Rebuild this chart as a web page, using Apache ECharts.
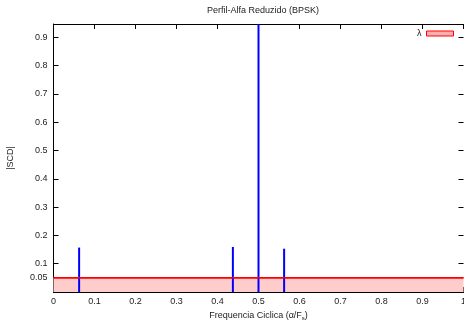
<!DOCTYPE html>
<html>
<head>
<meta charset="utf-8">
<script src="https://cdn.jsdelivr.net/npm/echarts@6/dist/echarts.min.js"></script>
<style>html,body{margin:0;padding:0;background:#fff}#c{width:464px;height:326px}</style>
</head>
<body>
<div id="c"></div>
<script>
// Data
const impulseX = [0.0625, 0.4375, 0.5, 0.5625];
const impulseY = [0.157, 0.159, 1.0, 0.153];
const lambdaX = [0, 1];
const lambdaY = [0.05, 0.05];
const xTicks = [0, 0.1, 0.2, 0.3, 0.4, 0.5, 0.6, 0.7, 0.8, 0.9, 1];
const yTickLabels = [0.05, 0.1, 0.2, 0.3, 0.4, 0.5, 0.6, 0.7, 0.8, 0.9];

const font = 'Liberation Sans, Arial, Helvetica, sans-serif';
const YMAX = 0.947;

const chart = echarts.init(document.getElementById('c'), null, {renderer: 'canvas'});

function yFmt(v) {
  for (const t of yTickLabels) {
    if (Math.abs(v - t) < 1e-6) return t === 0.05 ? '0.05' : t.toFixed(1);
  }
  return '';
}

const option = {
  animation: false,
  textStyle: {fontFamily: font},
  title: {
    text: 'Perfil-Alfa Reduzido (BPSK)',
    left: 258, top: 1, textAlign: 'center',
    textStyle: {fontSize: 9, fontWeight: 'normal', color: '#222', fontFamily: font}
  },
  legend: {
    right: 10, top: 29, padding: 0,
    align: 'right',
    itemWidth: 27, itemHeight: 5, itemGap: 0,
    textStyle: {fontSize: 9, color: '#222', fontFamily: font},
    data: [{name: 'λ', icon: 'rect', itemStyle: {color: '#ffb0b0', borderColor: '#ff0000', borderWidth: 1}}]
  },
  grid: {left: 53.5, top: 24, right: 0.5, bottom: 34, containLabel: false, outerBoundsMode: 'none'},
  xAxis: [
    {
      type: 'value', min: 0, max: 1, interval: 0.1, position: 'bottom',
      name: 'Frequencia Ciclica (α/F{s|s})', nameLocation: 'middle', nameGap: 15,
      nameTextStyle: {fontSize: 9, color: '#222', fontFamily: font,
        rich: {s: {fontSize: 6, color: '#222', fontFamily: font, padding: [6, 0, 0, 0]}}},
      axisLine: {show: true, onZero: false, lineStyle: {color: '#000', width: 1}},
      axisTick: {show: true, inside: true, length: 5, lineStyle: {color: '#000'}},
      axisLabel: {fontSize: 9, color: '#222', margin: 5, fontFamily: font,
        formatter: v => { for (const t of xTicks) if (Math.abs(v - t) < 1e-6) return String(t); return ''; }},
      splitLine: {show: false}
    },
    {
      type: 'value', min: 0, max: 1, interval: 0.1, position: 'top',
      axisLine: {show: true, onZero: false, lineStyle: {color: '#000', width: 1}},
      axisTick: {show: true, inside: true, length: 5, lineStyle: {color: '#000'}},
      axisLabel: {show: false}, splitLine: {show: false}
    }
  ],
  yAxis: [
    {
      type: 'value', min: 0, max: YMAX, interval: 0.05, position: 'left',
      name: '|SCD|', nameLocation: 'middle', nameGap: 38, nameRotate: 90,
      nameTextStyle: {fontSize: 9, color: '#222', fontFamily: font},
      axisLine: {show: true, onZero: false, lineStyle: {color: '#000', width: 1}},
      axisTick: {show: false},
      axisLabel: {fontSize: 9, color: '#222', margin: 6, formatter: yFmt, showMaxLabel: false, fontFamily: font},
      splitLine: {show: false}
    },
    {
      type: 'value', min: 0, max: YMAX, interval: 0.1, position: 'left',
      axisLine: {show: false, onZero: false},
      axisTick: {show: true, inside: true, length: 5, lineStyle: {color: '#000'}},
      axisLabel: {show: false}, splitLine: {show: false}
    },
    {
      type: 'value', min: 0, max: YMAX, interval: 0.1, position: 'right',
      axisLine: {show: false, onZero: false},
      axisTick: {show: true, inside: true, length: 5, lineStyle: {color: '#000'}},
      axisLabel: {show: false}, splitLine: {show: false}
    }
  ],
  series: [
    {
      name: 'λ', type: 'line', xAxisIndex: 0, yAxisIndex: 0,
      data: lambdaX.map((x, i) => [x, lambdaY[i]]),
      showSymbol: false, symbol: 'none',
      lineStyle: {color: '#ff0000', width: 1.5},
      itemStyle: {color: '#ff0000'},
      areaStyle: {color: '#ffcccc', opacity: 1},
      z: 1
    },
    {
      name: 'impulses', type: 'bar', xAxisIndex: 0, yAxisIndex: 0,
      data: impulseX.map((x, i) => [x, impulseY[i]]),
      barWidth: 2,
      itemStyle: {color: '#0000ff'},
      clip: true,
      z: 2
    },
    {
      name: 'λline', type: 'line', xAxisIndex: 0, yAxisIndex: 0,
      data: lambdaX.map((x, i) => [x, lambdaY[i]]),
      showSymbol: false, symbol: 'none',
      lineStyle: {color: '#ff0000', width: 1.5},
      z: 3
    }
  ]
};
chart.setOption(option);
</script>
</body>
</html>
